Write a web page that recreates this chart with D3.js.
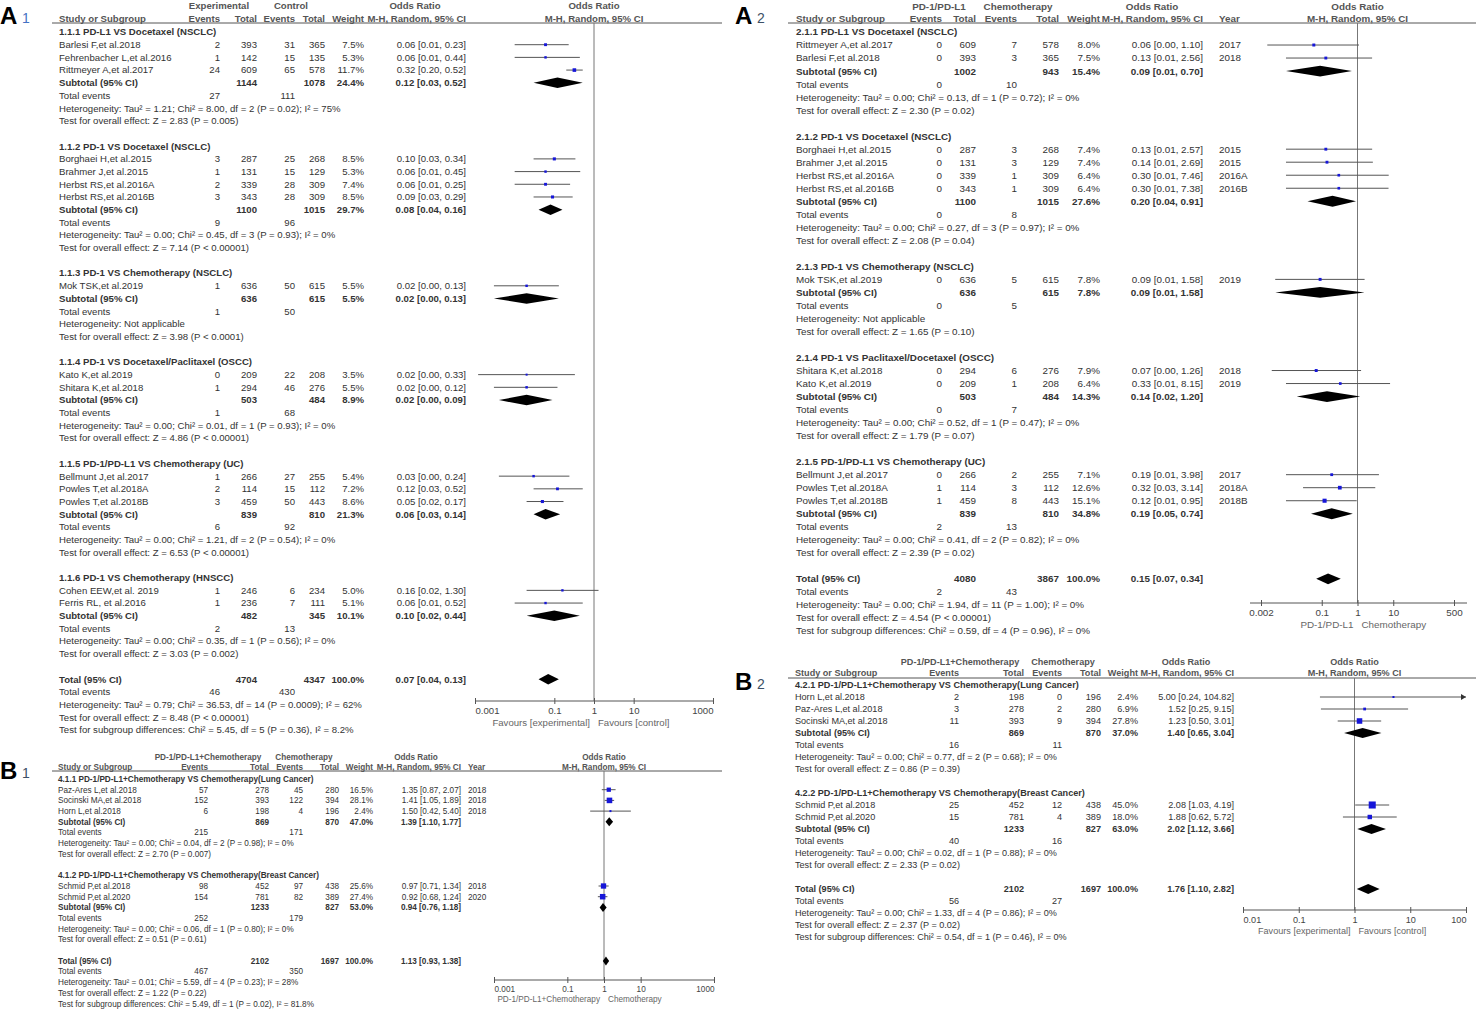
<!DOCTYPE html>
<html>
<head>
<meta charset="utf-8">
<script src="https://cdn.jsdelivr.net/npm/d3@7"></script>
<style>
  body { margin: 0; background: #fff; }
</style>
</head>
<body>
<div id="chart"></div>
<script>
// ---------- A1 : PD-1/PD-L1 vs control ----------
var a1Arms = ["Experimental", "Control"];
var a1Favours = ["Favours [experimental]", "Favours [control]"];
var a1Ticks = [0.001, 0.1, 1, 10, 1000];
var a1Groups = [
    ["1.1.1", "PD-L1 VS Docetaxel (NSCLC)"],
    ["1.1.2", "PD-1 VS Docetaxel (NSCLC)"],
    ["1.1.3", "PD-1 VS Chemotherapy (NSCLC)"],
    ["1.1.4", "PD-1 VS Docetaxel/Paclitaxel (OSCC)"],
    ["1.1.5", "PD-1/PD-L1 VS Chemotherapy (UC)"],
    ["1.1.6", "PD-1 VS Chemotherapy (HNSCC)"]
];
// group, study, exp events, exp total, ctrl events, ctrl total, weight, OR, lower, upper
var a1Studies = [
    ["1.1.1", "Barlesi F,et al.2018", 2, 393, 31, 365, 7.5, 0.06, 0.01, 0.23],
    ["1.1.1", "Fehrenbacher L,et al.2016", 1, 142, 15, 135, 5.3, 0.06, 0.01, 0.44],
    ["1.1.1", "Rittmeyer A,et al.2017", 24, 609, 65, 578, 11.7, 0.32, 0.20, 0.52],
    ["1.1.2", "Borghaei H,et al.2015", 3, 287, 25, 268, 8.5, 0.10, 0.03, 0.34],
    ["1.1.2", "Brahmer J,et al.2015", 1, 131, 15, 129, 5.3, 0.06, 0.01, 0.45],
    ["1.1.2", "Herbst RS,et al.2016A", 2, 339, 28, 309, 7.4, 0.06, 0.01, 0.25],
    ["1.1.2", "Herbst RS,et al.2016B", 3, 343, 28, 309, 8.5, 0.09, 0.03, 0.29],
    ["1.1.3", "Mok TSK,et al.2019", 1, 636, 50, 615, 5.5, 0.02, 0.003, 0.13],
    ["1.1.4", "Kato K,et al.2019", 0, 209, 22, 208, 3.5, 0.02, 0.0012, 0.33],
    ["1.1.4", "Shitara K,et al.2018", 1, 294, 46, 276, 5.5, 0.02, 0.003, 0.12],
    ["1.1.5", "Bellmunt J,et al.2017", 1, 266, 27, 255, 5.4, 0.03, 0.004, 0.24],
    ["1.1.5", "Powles T,et al.2018A", 2, 114, 15, 112, 7.2, 0.12, 0.03, 0.52],
    ["1.1.5", "Powles T,et al.2018B", 3, 459, 50, 443, 8.6, 0.05, 0.02, 0.17],
    ["1.1.6", "Cohen EEW,et al. 2019", 1, 246, 6, 234, 5.0, 0.16, 0.02, 1.30],
    ["1.1.6", "Ferris RL, et al.2016", 1, 236, 7, 111, 5.1, 0.06, 0.01, 0.52]
];
// group, exp total, ctrl total, weight, OR, lower, upper, exp events, ctrl events, heterogeneity, overall effect
var a1Subtotals = [
    ["1.1.1", 1144, 1078, 24.4, 0.12, 0.03, 0.52, 27, 111, "Tau² = 1.21; Chi² = 8.00, df = 2 (P = 0.02); I² = 75%", "Z = 2.83 (P = 0.005)"],
    ["1.1.2", 1100, 1015, 29.7, 0.08, 0.04, 0.16, 9, 96, "Tau² = 0.00; Chi² = 0.45, df = 3 (P = 0.93); I² = 0%", "Z = 7.14 (P < 0.00001)"],
    ["1.1.3", 636, 615, 5.5, 0.02, 0.003, 0.13, 1, 50, "Not applicable", "Z = 3.98 (P < 0.0001)"],
    ["1.1.4", 503, 484, 8.9, 0.02, 0.004, 0.09, 1, 68, "Tau² = 0.00; Chi² = 0.01, df = 1 (P = 0.93); I² = 0%", "Z = 4.86 (P < 0.00001)"],
    ["1.1.5", 839, 810, 21.3, 0.06, 0.03, 0.14, 6, 92, "Tau² = 0.00; Chi² = 1.21, df = 2 (P = 0.54); I² = 0%", "Z = 6.53 (P < 0.00001)"],
    ["1.1.6", 482, 345, 10.1, 0.10, 0.02, 0.44, 2, 13, "Tau² = 0.00; Chi² = 0.35, df = 1 (P = 0.56); I² = 0%", "Z = 3.03 (P = 0.002)"]
];
var a1Total = [4704, 4347, 100.0, 0.07, 0.04, 0.13, 46, 430,
    "Tau² = 0.79; Chi² = 36.53, df = 14 (P = 0.0009); I² = 62%", "Z = 8.48 (P < 0.00001)",
    "Chi² = 5.45, df = 5 (P = 0.36), I² = 8.2%"];

// ---------- A2 : PD-1/PD-L1 vs chemotherapy ----------
var a2Arms = ["PD-1/PD-L1", "Chemotherapy"];
var a2Favours = ["PD-1/PD-L1", "Chemotherapy"];
var a2Ticks = [0.002, 0.1, 1, 10, 500];
var a2Groups = [
    ["2.1.1", "PD-L1 VS Docetaxel (NSCLC)"],
    ["2.1.2", "PD-1 VS Docetaxel (NSCLC)"],
    ["2.1.3", "PD-1 VS Chemotherapy (NSCLC)"],
    ["2.1.4", "PD-1 VS Paclitaxel/Docetaxel (OSCC)"],
    ["2.1.5", "PD-1/PD-L1 VS Chemotherapy (UC)"]
];
var a2Studies = [
    ["2.1.1", "Rittmeyer A,et al.2017", 0, 609, 7, 578, 8.0, 0.06, 0.003, 1.10, "2017"],
    ["2.1.1", "Barlesi F,et al.2018", 0, 393, 3, 365, 7.5, 0.13, 0.01, 2.56, "2018"],
    ["2.1.2", "Borghaei H,et al.2015", 0, 287, 3, 268, 7.4, 0.13, 0.01, 2.57, "2015"],
    ["2.1.2", "Brahmer J,et al.2015", 0, 131, 3, 129, 7.4, 0.14, 0.01, 2.69, "2015"],
    ["2.1.2", "Herbst RS,et al.2016A", 0, 339, 1, 309, 6.4, 0.30, 0.01, 7.46, "2016A"],
    ["2.1.2", "Herbst RS,et al.2016B", 0, 343, 1, 309, 6.4, 0.30, 0.01, 7.38, "2016B"],
    ["2.1.3", "Mok TSK,et al.2019", 0, 636, 5, 615, 7.8, 0.09, 0.005, 1.58, "2019"],
    ["2.1.4", "Shitara K,et al.2018", 0, 294, 6, 276, 7.9, 0.07, 0.004, 1.26, "2018"],
    ["2.1.4", "Kato K,et al.2019", 0, 209, 1, 208, 6.4, 0.33, 0.01, 8.15, "2019"],
    ["2.1.5", "Bellmunt J,et al.2017", 0, 266, 2, 255, 7.1, 0.19, 0.01, 3.98, "2017"],
    ["2.1.5", "Powles T,et al.2018A", 1, 114, 3, 112, 12.6, 0.32, 0.03, 3.14, "2018A"],
    ["2.1.5", "Powles T,et al.2018B", 1, 459, 8, 443, 15.1, 0.12, 0.01, 0.95, "2018B"]
];
var a2Subtotals = [
    ["2.1.1", 1002, 943, 15.4, 0.09, 0.01, 0.70, 0, 10, "Tau² = 0.00; Chi² = 0.13, df = 1 (P = 0.72); I² = 0%", "Z = 2.30 (P = 0.02)"],
    ["2.1.2", 1100, 1015, 27.6, 0.20, 0.04, 0.91, 0, 8, "Tau² = 0.00; Chi² = 0.27, df = 3 (P = 0.97); I² = 0%", "Z = 2.08 (P = 0.04)"],
    ["2.1.3", 636, 615, 7.8, 0.09, 0.005, 1.58, 0, 5, "Not applicable", "Z = 1.65 (P = 0.10)"],
    ["2.1.4", 503, 484, 14.3, 0.14, 0.02, 1.20, 0, 7, "Tau² = 0.00; Chi² = 0.52, df = 1 (P = 0.47); I² = 0%", "Z = 1.79 (P = 0.07)"],
    ["2.1.5", 839, 810, 34.8, 0.19, 0.05, 0.74, 2, 13, "Tau² = 0.00; Chi² = 0.41, df = 2 (P = 0.82); I² = 0%", "Z = 2.39 (P = 0.02)"]
];
var a2Total = [4080, 3867, 100.0, 0.15, 0.07, 0.34, 2, 43,
    "Tau² = 0.00; Chi² = 1.94, df = 11 (P = 1.00); I² = 0%", "Z = 4.54 (P < 0.00001)",
    "Chi² = 0.59, df = 4 (P = 0.96), I² = 0%"];

// ---------- B1 : combination vs chemotherapy ----------
var b1Arms = ["PD-1/PD-L1+Chemotherapy", "Chemotherapy"];
var b1Favours = ["PD-1/PD-L1+Chemotherapy", "Chemotherapy"];
var b1Ticks = [0.001, 0.1, 1, 10, 1000];
var b1Groups = [
    ["4.1.1", "PD-1/PD-L1+Chemotherapy VS Chemotherapy(Lung Cancer)"],
    ["4.1.2", "PD-1/PD-L1+Chemotherapy VS Chemotherapy(Breast Cancer)"]
];
var b1Studies = [
    ["4.1.1", "Paz-Ares L,et al.2018", 57, 278, 45, 280, 16.5, 1.35, 0.87, 2.07, "2018"],
    ["4.1.1", "Socinski MA,et al.2018", 152, 393, 122, 394, 28.1, 1.41, 1.05, 1.89, "2018"],
    ["4.1.1", "Horn L,et al.2018", 6, 198, 4, 196, 2.4, 1.50, 0.42, 5.40, "2018"],
    ["4.1.2", "Schmid P,et al.2018", 98, 452, 97, 438, 25.6, 0.97, 0.71, 1.34, "2018"],
    ["4.1.2", "Schmid P,et al.2020", 154, 781, 82, 389, 27.4, 0.92, 0.68, 1.24, "2020"]
];
var b1Subtotals = [
    ["4.1.1", 869, 870, 47.0, 1.39, 1.10, 1.77, 215, 171, "Tau² = 0.00; Chi² = 0.04, df = 2 (P = 0.98); I² = 0%", "Z = 2.70 (P = 0.007)"],
    ["4.1.2", 1233, 827, 53.0, 0.94, 0.76, 1.18, 252, 179, "Tau² = 0.00; Chi² = 0.06, df = 1 (P = 0.80); I² = 0%", "Z = 0.51 (P = 0.61)"]
];
var b1Total = [2102, 1697, 100.0, 1.13, 0.93, 1.38, 467, 350,
    "Tau² = 0.01; Chi² = 5.59, df = 4 (P = 0.23); I² = 28%", "Z = 1.22 (P = 0.22)",
    "Chi² = 5.49, df = 1 (P = 0.02), I² = 81.8%"];

// ---------- B2 ----------
var b2Arms = ["PD-1/PD-L1+Chemotherapy", "Chemotherapy"];
var b2Favours = ["Favours [experimental]", "Favours [control]"];
var b2Ticks = [0.01, 0.1, 1, 10, 100];
var b2Groups = [
    ["4.2.1", "PD-1/PD-L1+Chemotherapy VS Chemotherapy(Lung Cancer)"],
    ["4.2.2", "PD-1/PD-L1+Chemotherapy VS Chemotherapy(Breast Cancer)"]
];
var b2Studies = [
    ["4.2.1", "Horn L,et al.2018", 2, 198, 0, 196, 2.4, 5.00, 0.24, 104.82],
    ["4.2.1", "Paz-Ares L,et al.2018", 3, 278, 2, 280, 6.9, 1.52, 0.25, 9.15],
    ["4.2.1", "Socinski MA,et al.2018", 11, 393, 9, 394, 27.8, 1.23, 0.50, 3.01],
    ["4.2.2", "Schmid P,et al.2018", 25, 452, 12, 438, 45.0, 2.08, 1.03, 4.19],
    ["4.2.2", "Schmid P,et al.2020", 15, 781, 4, 389, 18.0, 1.88, 0.62, 5.72]
];
var b2Subtotals = [
    ["4.2.1", 869, 870, 37.0, 1.40, 0.65, 3.04, 16, 11, "Tau² = 0.00; Chi² = 0.77, df = 2 (P = 0.68); I² = 0%", "Z = 0.86 (P = 0.39)"],
    ["4.2.2", 1233, 827, 63.0, 2.02, 1.12, 3.66, 40, 16, "Tau² = 0.00; Chi² = 0.02, df = 1 (P = 0.88); I² = 0%", "Z = 2.33 (P = 0.02)"]
];
var b2Total = [2102, 1697, 100.0, 1.76, 1.10, 2.82, 56, 27,
    "Tau² = 0.00; Chi² = 1.33, df = 4 (P = 0.86); I² = 0%", "Z = 2.37 (P = 0.02)",
    "Chi² = 0.54, df = 1 (P = 0.46), I² = 0%"];

var FONT = "'Liberation Sans', Arial, sans-serif";
var TXT = "#333", HEAD = "#555";
var f2 = d3.format(".2f"), f1 = d3.format(".1f");

var svg = d3.select("#chart").append("svg")
    .attr("width", 1476).attr("height", 1013)
    .style("background", "#fff");

// turn the arrays into the printed lines of one forest plot
function buildLines(groups, studies, subs, total) {
    var lines = [];
    groups.forEach(function(gr, gi) {
        lines.push({kind: "group", name: gr[0] + " " + gr[1]});
        studies.filter(function(s) { return s[0] == gr[0]; }).forEach(function(s) {
            lines.push({kind: "study", name: s[1], e1: s[2], n1: s[3], e2: s[4], n2: s[5],
                w: s[6], or: s[7], lo: s[8], hi: s[9], year: s[10]});
        });
        var t = subs[gi];
        lines.push({kind: "sum", name: "Subtotal (95% CI)", n1: t[1], n2: t[2], w: t[3], or: t[4], lo: t[5], hi: t[6]});
        lines.push({kind: "events", name: "Total events", e1: t[7], e2: t[8]});
        lines.push({kind: "note", name: "Heterogeneity: " + t[9]});
        lines.push({kind: "note", name: "Test for overall effect: " + t[10]});
        lines.push({kind: "blank"});
    });
    lines.push({kind: "sum", name: "Total (95% CI)", n1: total[0], n2: total[1], w: total[2], or: total[3], lo: total[4], hi: total[5]});
    lines.push({kind: "events", name: "Total events", e1: total[6], e2: total[7]});
    lines.push({kind: "note", name: "Heterogeneity: " + total[8]});
    lines.push({kind: "note", name: "Test for overall effect: " + total[9]});
    lines.push({kind: "note", name: "Test for subgroup differences: " + total[10]});
    return lines;
}

function forest(lines, L, arms, favours, ticks) {
    var g = svg.append("g").attr("font-family", FONT).attr("font-size", L.fs);
    var y = d3.scaleLinear().domain([0, 1]).range([L.y0, L.y0 + L.step]);
    var x = d3.scaleLog().domain(L.dom).range(L.rng);
    var sq = d3.scaleSqrt().domain([0, 100]).range([0, 10.5]);
    var mid = x(1);

    function put(s, px, py, anchor, bold, color) {
        g.append("text").attr("x", px).attr("y", py).attr("dy", "0.35em")
            .attr("text-anchor", anchor || "start")
            .attr("font-weight", bold ? "bold" : "normal")
            .attr("fill", color || TXT)
            .text(s);
    }

    // header
    put(arms[0], L.arm1, L.h1, "middle", true, HEAD);
    put(arms[1], L.arm2, L.h1, "middle", true, HEAD);
    put("Odds Ratio", L.orHead, L.h1, "middle", true, HEAD);
    put("Odds Ratio", mid, L.h1, "middle", true, HEAD);
    put("Study or Subgroup", L.cName, L.h2, "start", true, HEAD);
    put("Events", L.cE1, L.h2, "end", true, HEAD);
    put("Total", L.cN1, L.h2, "end", true, HEAD);
    put("Events", L.cE2, L.h2, "end", true, HEAD);
    put("Total", L.cN2, L.h2, "end", true, HEAD);
    put("Weight", L.cW, L.h2, "end", true, HEAD);
    put("M-H, Random, 95% CI", L.cCI, L.h2, "end", true, HEAD);
    if (L.cYear) put("Year", L.cYear, L.h2, "start", true, HEAD);
    put("M-H, Random, 95% CI", mid, L.h2, "middle", true, HEAD);
    g.append("line").attr("x1", L.left).attr("x2", L.right)
        .attr("y1", L.rule).attr("y2", L.rule)
        .attr("stroke", "#555").attr("stroke-width", 1);

    // line of no effect
    g.append("line").attr("x1", mid).attr("x2", mid)
        .attr("y1", L.rule).attr("y2", L.axisY)
        .attr("stroke", "#777").attr("stroke-width", 1);

    lines.forEach(function(d, i) {
        var py = y(i);
        if (d.kind == "blank") return;
        var bold = d.kind == "group" || d.kind == "sum";
        put(d.name, L.cName, py, "start", bold);
        if (d.kind == "study" || d.kind == "events") {
            put(d.e1, L.cE1, py, "end");
            put(d.e2, L.cE2, py, "end");
        }
        if (d.kind == "study" || d.kind == "sum") {
            var b = d.kind == "sum";
            put(d.n1, L.cN1, py, "end", b);
            put(d.n2, L.cN2, py, "end", b);
            put(f1(d.w) + "%", L.cW, py, "end", b);
            put(f2(d.or) + " [" + f2(d.lo) + ", " + f2(d.hi) + "]", L.cCI, py, "end", b);
        }
        if (d.kind == "study") {
            if (L.cYear && d.year) put(d.year, L.cYear, py, "start");
            var x0 = x(Math.max(d.lo, L.dom[0])), x1 = x(Math.min(d.hi, L.dom[1]));
            g.append("line").attr("x1", x0).attr("x2", x1).attr("y1", py).attr("y2", py)
                .attr("stroke", "#555").attr("stroke-width", 1);
            if (d.hi > L.dom[1]) {
                g.append("path")
                    .attr("d", "M" + x1 + "," + py + "l-5,-3v6z")
                    .attr("fill", "#333");
            }
            var s = Math.max(2, sq(d.w));
            g.append("rect").attr("x", x(d.or) - s / 2).attr("y", py - s / 2)
                .attr("width", s).attr("height", s).attr("fill", "#1616d8");
        }
        if (d.kind == "sum") {
            var h = L.fs * 0.55;
            g.append("path")
                .attr("d", "M" + x(d.lo) + "," + py + "L" + x(d.or) + "," + (py - h) +
                    "L" + x(d.hi) + "," + py + "L" + x(d.or) + "," + (py + h) + "Z")
                .attr("fill", "#000");
        }
    });

    // axis
    g.append("line").attr("x1", L.axisExt[0]).attr("x2", L.axisExt[1])
        .attr("y1", L.axisY).attr("y2", L.axisY)
        .attr("stroke", "#555").attr("stroke-width", 1);
    var ax = g.append("g").attr("transform", "translate(0," + L.axisY + ")")
        .call(d3.axisBottom(x).tickValues(ticks).tickFormat(function(t) { return String(t); })
            .tickSizeInner(6).tickSizeOuter(0));
    ax.attr("font-size", L.fs).attr("font-family", FONT);
    ax.select(".domain").remove();
    ax.selectAll(".tick line").attr("y1", -3).attr("y2", 3).attr("stroke", "#555");
    ax.selectAll(".tick text")
        .attr("y", L.tickY - L.axisY).attr("dy", "0.35em").attr("fill", "#444")
        .attr("text-anchor", function(t) {
            if (L.edge && t == ticks[0]) return "start";
            if (L.edge && t == ticks[ticks.length - 1]) return "end";
            return "middle";
        });
    put(favours[0], mid - 4, L.footY, "end", false, "#666");
    put(favours[1], mid + 4, L.footY, "start", false, "#666");
}

function panelLabel(letter, digit, px, base, color) {
    svg.append("text").attr("x", px).attr("y", base)
        .attr("font-family", FONT).attr("font-size", 24).attr("font-weight", "bold")
        .attr("fill", "#000").text(letter);
    svg.append("text").attr("x", px + 22).attr("y", base - 1)
        .attr("font-family", FONT).attr("font-size", 14)
        .attr("fill", color).text(digit);
}

var layA1 = {fs: 9.6, left: 52, right: 722, h1: 6, h2: 19, rule: 23, y0: 32, step: 12.69,
    cName: 59, cE1: 220, cN1: 257, cE2: 295, cN2: 325, cW: 364, cCI: 466, cYear: null,
    arm1: 219, arm2: 291, orHead: 415,
    dom: [0.001, 1000], rng: [475, 713], axisExt: [475, 713], edge: true,
    axisY: 701, tickY: 711, footY: 723};
var layA2 = {fs: 9.85, left: 788, right: 1476, h1: 7, h2: 19, rule: 23, y0: 32, step: 13.02,
    cName: 796, cE1: 942, cN1: 976, cE2: 1017, cN2: 1059, cW: 1100, cCI: 1203, cYear: 1219,
    arm1: 939, arm2: 1018, orHead: 1152,
    dom: [0.002, 500], rng: [1261, 1454], axisExt: [1250, 1467], edge: false,
    axisY: 603, tickY: 613, footY: 625};
var layB1 = {fs: 8.2, left: 52, right: 722, h1: 757, h2: 767, rule: 771, y0: 779, step: 10.7,
    cName: 58, cE1: 208, cN1: 269, cE2: 303, cN2: 339, cW: 373, cCI: 461, cYear: 468,
    arm1: 208, arm2: 304, orHead: 416,
    dom: [0.001, 1000], rng: [494, 714], axisExt: [494, 714], edge: true,
    axisY: 980, tickY: 989, footY: 999};
var layB2 = {fs: 9.1, left: 788, right: 1476, h1: 662, h2: 673, rule: 678, y0: 685, step: 12.0,
    cName: 795, cE1: 959, cN1: 1024, cE2: 1062, cN2: 1101, cW: 1138, cCI: 1234, cYear: null,
    arm1: 960, arm2: 1063, orHead: 1186,
    dom: [0.01, 100], rng: [1243, 1466], axisExt: [1243, 1466], edge: true,
    axisY: 910, tickY: 920, footY: 931};

forest(buildLines(a1Groups, a1Studies, a1Subtotals, a1Total), layA1, a1Arms, a1Favours, a1Ticks);
forest(buildLines(a2Groups, a2Studies, a2Subtotals, a2Total), layA2, a2Arms, a2Favours, a2Ticks);
forest(buildLines(b1Groups, b1Studies, b1Subtotals, b1Total), layB1, b1Arms, b1Favours, b1Ticks);
forest(buildLines(b2Groups, b2Studies, b2Subtotals, b2Total), layB2, b2Arms, b2Favours, b2Ticks);

panelLabel("A", "1", 0, 24, "#4472c4");
panelLabel("A", "2", 735, 24, "#3d4f66");
panelLabel("B", "1", 0, 779, "#3d4f66");
panelLabel("B", "2", 735, 690, "#3d4f66");
</script>
</body>
</html>
